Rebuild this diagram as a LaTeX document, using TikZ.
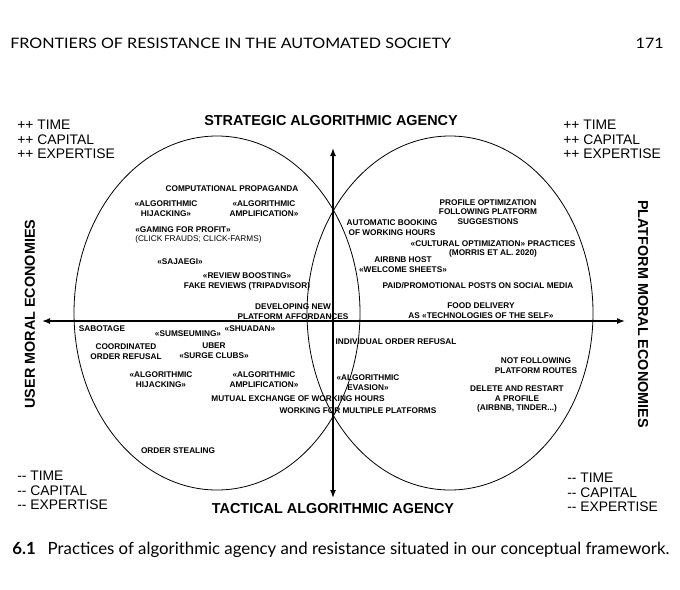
\documentclass[tikz,border=0pt]{standalone}
\usepackage{fontspec}
\setmainfont{Liberation Sans}
\newfontfamily\hdr{Lato}
\newfontfamily\hdrw[FakeStretch=1.12]{Lato}
\usetikzlibrary{arrows.meta}
\begin{document}
\begin{tikzpicture}[x=0.75pt,y=-0.75pt,
  lbl/.style={font=\bfseries\fontsize{6.2}{7.3}\selectfont, align=center, inner sep=0pt},
  big/.style={font=\bfseries\fontsize{10.8}{13}\selectfont, inner sep=0pt},
  res/.style={font=\fontsize{10.4}{10.9}\selectfont, align=left, inner sep=0pt, anchor=north west},
  axisline/.style={line width=1.1pt, {Latex[length=6pt,width=4.5pt]}-{Latex[length=6pt,width=4.5pt]}},
  oval/.style={line width=0.6pt}]
\useasboundingbox (0,0) rectangle (680,589);
\fill[white] (0,0) rectangle (680,589);

% header and caption
\node[font=\hdrw\fontsize{10.8}{12}\selectfont, anchor=west, inner sep=0pt] (hdr) at (10,43) {FRONTIERS OF RESISTANCE IN THE AUTOMATED SOCIETY};
\node[font=\hdrw\fontsize{10.8}{12}\selectfont, anchor=east, inner sep=0pt] (pg) at (664,43) {171};
\node[font=\hdr\fontsize{12.6}{14}\selectfont, anchor=west, inner sep=0pt] (cap) at (12,550) {\textbf{6.1}\hspace{9pt}Practices of algorithmic agency and resistance situated in our conceptual framework.};

% ellipses
\draw[oval] (217,313) ellipse [x radius=107.25pt, y radius=132.75pt];
\draw[oval] (450,313) ellipse [x radius=107.25pt, y radius=132.75pt];

% axes
\coordinate (vtop) at (333,148);
\coordinate (vbot) at (333,498);
\coordinate (hl) at (42,321);
\coordinate (hr) at (625,321);
\draw[axisline] (vbot) -- (vtop);
\draw[axisline] (hl) -- (hr);

% big labels
\node[big] (strat) at (331,121) {STRATEGIC ALGORITHMIC AGENCY};
\node[big] (tact) at (333,509) {TACTICAL ALGORITHMIC AGENCY};
\node[big, rotate=90] (user) at (30,314) {USER MORAL ECONOMIES};
\node[big, rotate=-90] (plat) at (643,314) {PLATFORM MORAL ECONOMIES};

\node[res] (plusL) at (17,120) {++ TIME\\++ CAPITAL\\++ EXPERTISE};
\node[res] (plusR) at (563,120) {++ TIME\\++ CAPITAL\\++ EXPERTISE};
\node[res] (minL) at (17,471) {-\kern0pt- TIME\\-\kern0pt- CAPITAL\\-\kern0pt- EXPERTISE};
\node[res] (minR) at (567,473) {-\kern0pt- TIME\\-\kern0pt- CAPITAL\\-\kern0pt- EXPERTISE};

% upper left
\node[lbl] (cp) at (232,189) {COMPUTATIONAL PROPAGANDA};
\node[lbl] (ah1) at (166,209) {«ALGORITHMIC\\HIJACKING»};
\node[lbl] (aa1) at (264,209) {«ALGORITHMIC\\AMPLIFICATION»};
\node[lbl, align=left, anchor=west] (gam) at (135,235) {«GAMING FOR PROFIT»\\{\mdseries (CLICK FRAUDS; CLICK-FARMS)}};
\node[lbl] (saj) at (180,262) {«SAJAEGI»};
\node[lbl] (rev) at (247,281.5) {«REVIEW BOOSTING»\\FAKE REVIEWS (TRIPADVISOR)};

% upper right
\node[lbl] (prof) at (488,212) {PROFILE OPTIMIZATION\\FOLLOWING PLATFORM\\SUGGESTIONS};
\node[lbl] (auto) at (392,227.5) {AUTOMATIC BOOKING\\OF WORKING HOURS};
\node[lbl] (cult) at (493,249) {«CULTURAL OPTIMIZATION» PRACTICES\\(MORRIS ET AL. 2020)};
\node[lbl] (air) at (403,264.5) {AIRBNB HOST\\«WELCOME SHEETS»};
\node[lbl] (paid) at (478,286) {PAID/PROMOTIONAL POSTS ON SOCIAL MEDIA};

% around the horizontal axis
\node[lbl] (dev) at (293,311.5) {DEVELOPING NEW\\PLATFORM AFFORDANCES};
\node[lbl] (food) at (481,311) {FOOD DELIVERY\\AS «TECHNOLOGIES OF THE SELF»};

% lower left
\node[lbl] (sab) at (102,329) {SABOTAGE};
\node[lbl] (sum) at (188,334) {«SUMSEUMING»};
\node[lbl] (shu) at (250,329) {«SHUADAN»};
\node[lbl] (coord) at (126,351.5) {COORDINATED\\ORDER REFUSAL};
\node[lbl] (uber) at (214,350.5) {UBER\\«SURGE CLUBS»};
\node[lbl] (ah2) at (161,380) {«ALGORITHMIC\\HIJACKING»};
\node[lbl] (aa2) at (264,380) {«ALGORITHMIC\\AMPLIFICATION»};
\node[lbl] (mut) at (298,399) {MUTUAL EXCHANGE OF WORKING HOURS};
\node[lbl] (work) at (358,411) {WORKING FOR MULTIPLE PLATFORMS};
\node[lbl] (ord) at (178,451) {ORDER STEALING};

% lower right
\node[lbl] (ind) at (396,342) {INDIVIDUAL ORDER REFUSAL};
\node[lbl] (notf) at (536,366) {NOT FOLLOWING\\PLATFORM ROUTES};
\node[lbl] (eva) at (368,382.5) {«ALGORITHMIC\\EVASION»};
\node[lbl] (del) at (517,399) {DELETE AND RESTART\\A PROFILE\\(AIRBNB, TINDER...)};
\end{tikzpicture}
\end{document}
